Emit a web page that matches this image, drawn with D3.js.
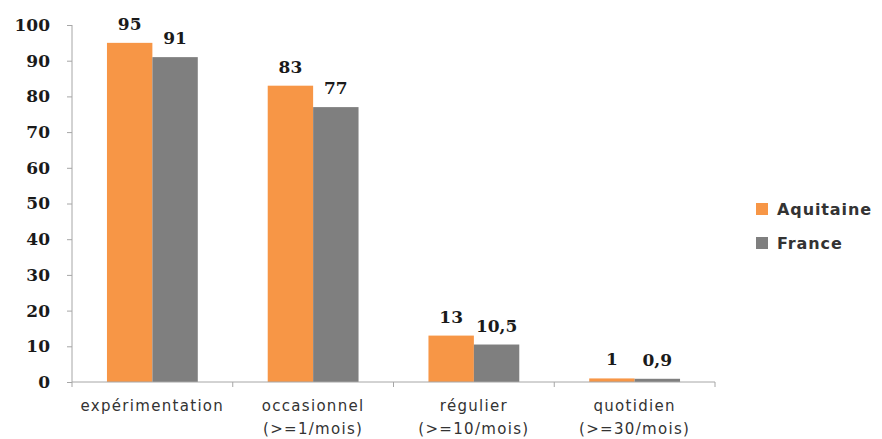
<!DOCTYPE html>
<html><head><meta charset="utf-8">
<script src="https://cdn.jsdelivr.net/npm/d3@7"></script>
<style>body{margin:0;background:#fff;}svg{display:block;}</style>
</head><body>
<script>
const categories = [["expérimentation"], ["occasionnel","(>=1/mois)"], ["régulier","(>=10/mois)"], ["quotidien","(>=30/mois)"]];
const seriesNames = ["Aquitaine", "France"];
const aquitaine = [95, 83, 13, 1];
const france = [91, 77, 10.5, 0.9];
const aquitaineLabels = ["95", "83", "13", "1"];
const franceLabels = ["91", "77", "10,5", "0,9"];
const yTicks = [0,10,20,30,40,50,60,70,80,90,100];
const colors = ["#F79646", "#7F7F7F"];

const W = 882, H = 439;
const svg = d3.select("body").append("svg").attr("width", W).attr("height", H);
const x0 = d3.scaleBand().domain(d3.range(categories.length)).range([72, 715]).paddingInner(0).paddingOuter(0);
const x1 = d3.scaleBand().domain([0,1]).range([0, x0.bandwidth()]).paddingOuter(0.77).paddingInner(0);
const y = d3.scaleLinear().domain([0,100]).range([382, 25]);

const serif = "'DejaVu Serif', 'Liberation Serif', serif";
const sans = "'DejaVu Sans', 'Open Sans', sans-serif";

// y axis
const yAxis = svg.append("g").attr("transform","translate(72,0)")
  .call(d3.axisLeft(y).tickValues(yTicks).tickSize(5).tickPadding(17).tickFormat(d3.format("d")));
yAxis.select(".domain").attr("stroke","#a6a6a6").attr("d","M0,25V382");
yAxis.selectAll(".tick line").attr("stroke","#a6a6a6");
yAxis.selectAll(".tick text").attr("font-family", serif).attr("font-weight","bold")
  .attr("font-size", 17).attr("fill","#1a1a1a");

// bars
const data = [aquitaine, france];
const labels = [aquitaineLabels, franceLabels];
data.forEach((vals, s) => {
  svg.append("g").selectAll("rect").data(vals).join("rect")
    .attr("x", (d,i) => x0(i) + x1(s))
    .attr("width", x1.bandwidth())
    .attr("y", d => y(d))
    .attr("height", d => y(0) - y(d))
    .attr("fill", colors[s]);
  svg.append("g").selectAll("text").data(vals).join("text")
    .attr("x", (d,i) => x0(i) + x1(s) + x1.bandwidth()/2)
    .attr("y", d => y(d) - 13)
    .attr("text-anchor","middle")
    .attr("font-family", serif).attr("font-weight","bold").attr("font-size", 17)
    .attr("fill","#1a1a1a")
    .text((d,i) => labels[s][i]);
});

// x axis
const xAxisG = svg.append("g").attr("transform","translate(0,382)");
xAxisG.append("line").attr("x1",72).attr("x2",715).attr("stroke","#a6a6a6");
const bounds = d3.range(categories.length + 1).map(i => i < categories.length ? x0(i) : x0.range()[1]);
xAxisG.selectAll("line.t").data(bounds).join("line").attr("class","t")
  .attr("x1", d=>d).attr("x2", d=>d).attr("y1",0).attr("y2",5).attr("stroke","#a6a6a6");
categories.forEach((lines, i) => {
  const t = xAxisG.append("text").attr("text-anchor","middle")
    .attr("font-family", sans).attr("font-size", 15).attr("letter-spacing", 1.3).attr("fill","#333");
  lines.forEach((ln, k) => {
    t.append("tspan").attr("x", x0(i) + x0.bandwidth()/2).attr("y", 29 + k*23).text(ln);
  });
});

// legend
const leg = svg.append("g");
seriesNames.forEach((n, i) => {
  const yy = 203 + i*34;
  leg.append("rect").attr("x",756).attr("y",yy).attr("width",12).attr("height",12).attr("fill",colors[i]);
  leg.append("text").attr("x",777).attr("y",yy+12).attr("font-family", sans).attr("font-weight","bold")
    .attr("font-size",16).attr("letter-spacing",0.9).attr("fill","#333").text(n);
});
</script>
</body></html>
